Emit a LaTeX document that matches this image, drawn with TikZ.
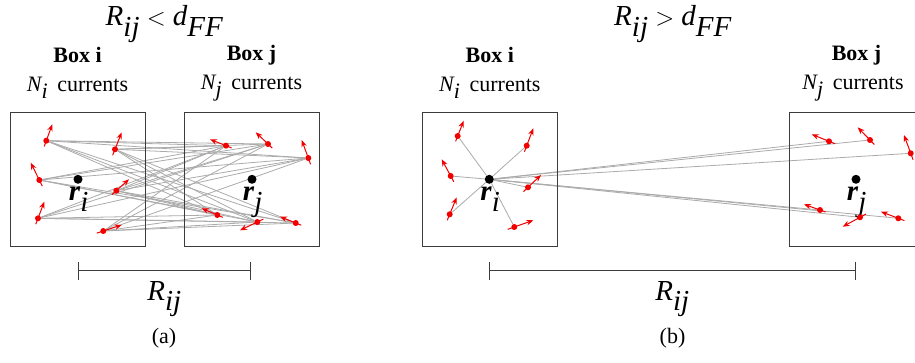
\documentclass[tikz,border=0pt]{standalone}
\usepackage{fontspec}
\setmainfont{Liberation Serif}
\usetikzlibrary{arrows.meta,calc,backgrounds}
\definecolor{frame}{HTML}{3C3C3C}
\definecolor{linkgray}{HTML}{ABABAB}
\definecolor{spark}{HTML}{F20000}
\tikzset{
  cell/.style={draw=frame,line width=.9pt,fill=none,inner sep=0pt},
  link/.style={draw=linkgray,line width=.8pt},
  charge/.style={circle,fill=spark,inner sep=0pt,minimum size=6pt},
  current/.style={-{Stealth[length=7pt,width=5.5pt]},draw=spark,line width=1pt},
  centre/.style={circle,fill=black,inner sep=0pt,minimum size=9pt},
  ruler/.style={{Bar[width=18pt]}-{Bar[width=18pt]},draw=frame,line width=.9pt},
  heading/.style={font=\fontsize{29}{32}\selectfont},
  boxname/.style={font=\fontsize{22}{24}\selectfont\bfseries},
  count/.style={font=\fontsize{22}{24}\selectfont},
  posname/.style={font=\fontsize{29}{32}\selectfont,inner sep=0pt},
  distname/.style={font=\fontsize{29}{32}\selectfont},
  caption/.style={font=\fontsize{22}{24}\selectfont}
}

\begin{document}
\begin{tikzpicture}[x=1pt,y=-1pt]
  \useasboundingbox (0,0) rectangle (915,362);

  % boxes of panel (a) and panel (b)
  \node[cell,minimum width=135pt,minimum height=134.5pt] (boxAi) at (77.5,179.3) {};
  \node[cell,minimum width=135pt,minimum height=134.5pt] (boxAj) at (251.5,179.3) {};
  \node[cell,minimum width=135pt,minimum height=134.5pt] (boxBi) at (489.8,179.3) {};
  \node[cell,minimum width=135pt,minimum height=134.5pt] (boxBj) at (856.5,179.3) {};

  \node[heading] (titleA) at (164.5,24) {$\textit{R}_{\textit{ij}} < \textit{d}_{\textit{FF}}$};
  \node[heading] (titleB) at (673,24) {$\textit{R}_{\textit{ij}} > \textit{d}_{\textit{FF}}$};

  \node[boxname] at (77.5,55) {Box i};
  \node[count] at (77.5,88) {$\textit{N}_{\textit{i}}$\, currents};
  \node[boxname] at (251.5,55) {Box j};
  \node[count] at (251.5,88) {$\textit{N}_{\textit{j}}$\, currents};
  \node[boxname] at (489.8,55) {Box i};
  \node[count] at (489.8,88) {$\textit{N}_{\textit{i}}$\, currents};
  \node[boxname] at (856.5,55) {Box j};
  \node[count] at (853,88) {$\textit{N}_{\textit{j}}$\, currents};

  % box centres
  \node[centre] (riA) at (78,179.3) {};
  \node[centre] (rjA) at (252,179.3) {};
  \node[centre] (riB) at (489.3,179.3) {};
  \node[centre] (rjB) at (856,179.3) {};
  \foreach \c/\t in {riA/i,rjA/j,riB/i,rjB/j}
    \node[posname,anchor=north] at ([xshift=1pt,yshift=-3pt]\c.south)
      {$\textbf{\textit{r}}_{\textit{\t}}$};

  % current elements: name / position / arrow tip
  \foreach \n/\x/\y/\hx/\hy in {
      a1/46.3/140.7/52.3/124.3, a2/115/149.3/121.7/132.3,
      a3/39.3/180/30.7/162.7, a4/116.3/190.7/129/179.3,
      a5/38/218.3/44.3/201.7, a6/103.3/231/121.7/225,
      b1/226/145.7/210/139.3, b2/268/144/255.7/132.3,
      b3/308.3/158/301.7/140, b4/217.3/215/201.7/208.3,
      b5/257.3/222/240/230.3, b6/295.7/223/280/216.7,
      c1/457.7/136/463.7/120.7, c2/526.7/145.7/533.3/128.3,
      c3/450.7/176/441.7/159.3, c4/528/187.3/541/175,
      c5/449.7/214.3/456.7/197.3, c6/514.3/227/533.3/220.3,
      d1/829/141.3/811.7/134.3, d2/870/140/857.7/127.3,
      d3/910.7/153.3/904/135, d4/820/210/804/204.3,
      d5/860/217.3/842.7/226.7, d6/898.3/218.3/881/211.7} {
    \node[charge] (\n) at (\x,\y) {};
    \coordinate (\n-tip) at (\hx,\hy);
    \draw[current] ($(\n)!-0.35!(\n-tip)$) -- (\n-tip);
  }

  % interactions
  \begin{scope}[on background layer]
    \foreach \p in {a1,a2,a3,a4,a5,a6}
      \foreach \q in {b1,b2,b3,b4,b5,b6}
        \draw[link] (\p) -- (\q);
    \foreach \q in {c1,c2,c3,c4,c5,c6,d1,d2,d3,d4,d5,d6}
      \draw[link] (riB) -- (\q);
  \end{scope}

  % separation
  \coordinate (barA1) at (77.7,270.7);
  \coordinate (barA2) at (251,270.7);
  \coordinate (barB1) at (489.3,270.7);
  \coordinate (barB2) at (856,270.7);
  \draw[ruler] (barA1) -- (barA2);
  \draw[ruler] (barB1) -- (barB2);
  \node[distname] at (164.5,299) {$\textit{R}_{\textit{ij}}$};
  \node[distname] at (672.5,299) {$\textit{R}_{\textit{ij}}$};
  \node[caption] at (164,338) {(a)};
  \node[caption] at (672.5,338) {(b)};
\end{tikzpicture}
\end{document}
